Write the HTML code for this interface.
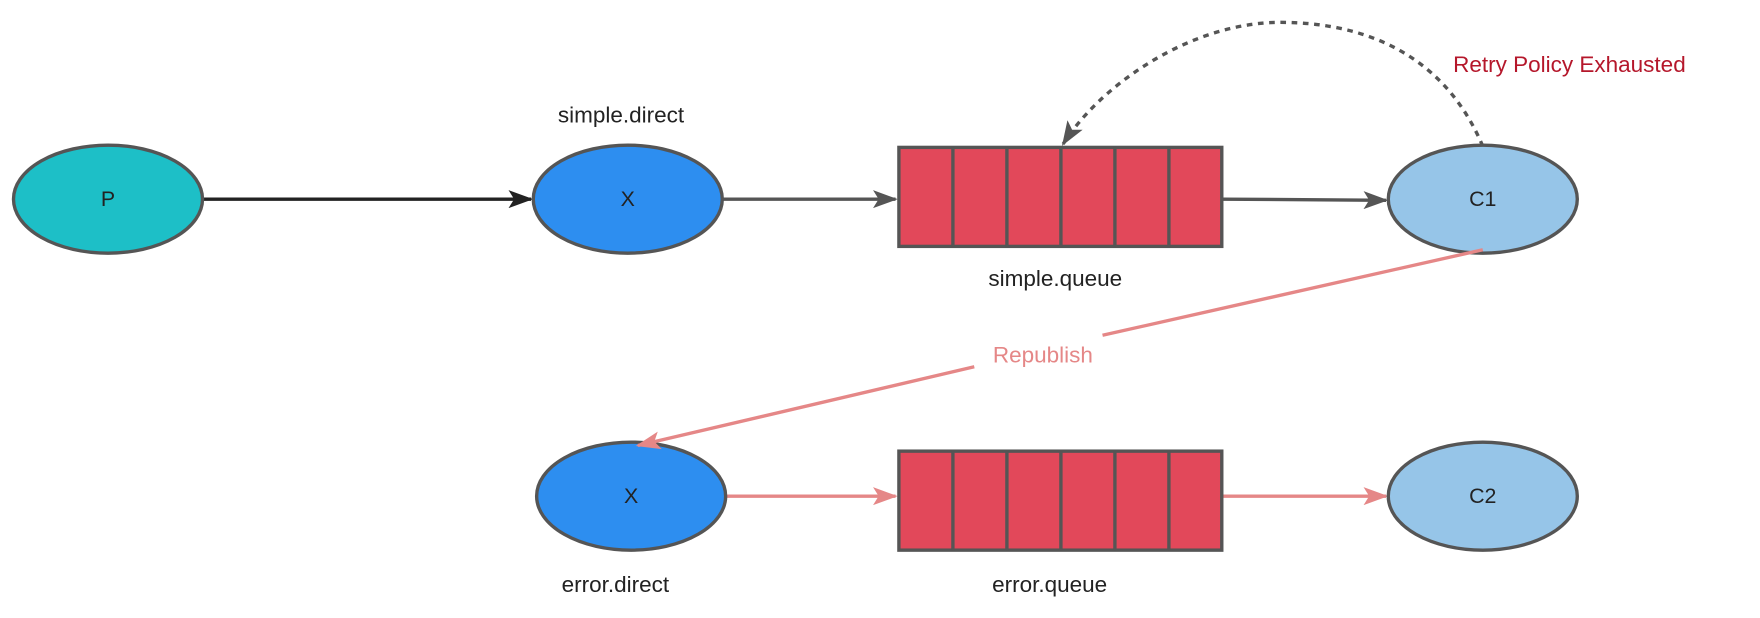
<!DOCTYPE html>
<html><head><meta charset="utf-8"><style>html,body{margin:0;padding:0;background:#fff;}svg{display:block}</style></head>
<body>
<svg width="1760" height="618" viewBox="0 0 1564.4 549.3" xmlns="http://www.w3.org/2000/svg" font-family="Liberation Sans, sans-serif">
<defs>
<marker id="ag" markerWidth="22" markerHeight="16" refX="20" refY="8" orient="auto" markerUnits="userSpaceOnUse"><path d="M0,0 L22,8 L0,16 L5,8 Z" fill="#555"/></marker>
<marker id="ak" markerWidth="22" markerHeight="16" refX="20" refY="8" orient="auto" markerUnits="userSpaceOnUse"><path d="M0,0 L22,8 L0,16 L5,8 Z" fill="#222"/></marker>
<marker id="ar" markerWidth="22" markerHeight="16" refX="20" refY="8" orient="auto" markerUnits="userSpaceOnUse"><path d="M0,0 L22,8 L0,16 L5,8 Z" fill="#e58787"/></marker>
</defs>
<line x1="180" y1="177" x2="472" y2="177" stroke="#222" stroke-width="3" marker-end="url(#ak)"/>
<line x1="642" y1="177" x2="796" y2="177" stroke="#555" stroke-width="3" marker-end="url(#ag)"/>
<path d="M1087,177 L1232,178" stroke="#555" stroke-width="3" fill="none" marker-end="url(#ag)"/>
<path d="M1318,130 C1280,40 1200,18 1130,20 C1050,24 975,80 945,128" stroke="#555" stroke-width="3" stroke-dasharray="5,5" fill="none" marker-end="url(#ag)"/>
<text x="927" y="322" font-size="20" fill="#e58787" text-anchor="middle">Republish</text>
<line x1="646" y1="441" x2="796" y2="441" stroke="#e58787" stroke-width="3" marker-end="url(#ar)"/>
<line x1="1087" y1="441" x2="1232" y2="441" stroke="#e58787" stroke-width="3" marker-end="url(#ar)"/>
<ellipse cx="96" cy="177" rx="84" ry="48" fill="#1dbfc7" stroke="#555" stroke-width="3"/>
<text x="96" y="183" font-size="19" fill="#222" text-anchor="middle">P</text>
<ellipse cx="558" cy="177" rx="84" ry="48" fill="#2d8ef0" stroke="#555" stroke-width="3"/>
<text x="558" y="183" font-size="19" fill="#222" text-anchor="middle">X</text>
<ellipse cx="1318" cy="177" rx="84" ry="48" fill="#96c5e8" stroke="#555" stroke-width="3"/>
<text x="1318" y="183" font-size="19" fill="#222" text-anchor="middle">C1</text>
<ellipse cx="561" cy="441" rx="84" ry="48" fill="#2d8ef0" stroke="#555" stroke-width="3"/>
<text x="561" y="447" font-size="19" fill="#222" text-anchor="middle">X</text>
<ellipse cx="1318" cy="441" rx="84" ry="48" fill="#96c5e8" stroke="#555" stroke-width="3"/>
<text x="1318" y="447" font-size="19" fill="#222" text-anchor="middle">C2</text>
<line x1="1318" y1="222" x2="980" y2="298" stroke="#e58787" stroke-width="3"/>
<line x1="866" y1="326" x2="567" y2="396" stroke="#e58787" stroke-width="3" marker-end="url(#ar)"/>
<g stroke="#555" stroke-width="3" fill="#e2485a">
<rect x="799" y="131" width="287" height="88"/>
<line x1="847" y1="131" x2="847" y2="219"/><line x1="895" y1="131" x2="895" y2="219"/><line x1="943" y1="131" x2="943" y2="219"/><line x1="991" y1="131" x2="991" y2="219"/><line x1="1039" y1="131" x2="1039" y2="219"/>
<rect x="799" y="401" width="287" height="88"/>
<line x1="847" y1="401" x2="847" y2="489"/><line x1="895" y1="401" x2="895" y2="489"/><line x1="943" y1="401" x2="943" y2="489"/><line x1="991" y1="401" x2="991" y2="489"/><line x1="1039" y1="401" x2="1039" y2="489"/>
</g>
<g font-size="20" fill="#222" text-anchor="middle">
<text x="552" y="109">simple.direct</text>
<text x="938" y="254">simple.queue</text>
<text x="547" y="526">error.direct</text>
<text x="933" y="526">error.queue</text>
</g>
<text x="1395" y="64" font-size="20" fill="#b5172b" text-anchor="middle">Retry Policy Exhausted</text>
</svg>
</body></html>
